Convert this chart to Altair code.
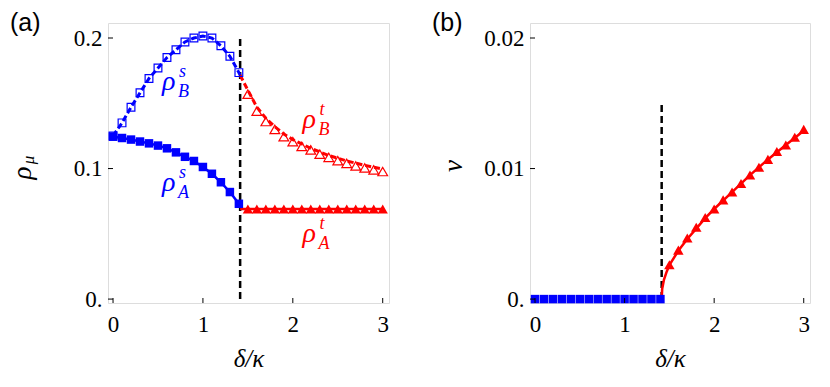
import altair as alt
import pandas as pd

# ---------------- data ----------------
crit = 1.414

xs_s = [0.0, 0.1, 0.2, 0.3, 0.4, 0.5, 0.6, 0.7, 0.8, 0.9, 1.0, 1.1, 1.2, 1.3, 1.4]
rhoA_s = [0.1244, 0.1234, 0.1222, 0.1207, 0.1193, 0.1176, 0.1155, 0.1124, 0.1090,
          0.1058, 0.1012, 0.0960, 0.0895, 0.0820, 0.0730]
rhoB_s = [0.1250, 0.1350, 0.1470, 0.1580, 0.1690, 0.1770, 0.1850, 0.1910, 0.1970,
          0.2000, 0.2015, 0.2000, 0.1940, 0.1860, 0.1735]
rhoA_s_end = 0.0715
rhoB_s_end = 0.1715

xs_t = [1.5, 1.6, 1.7, 1.8, 1.9, 2.0, 2.1, 2.2, 2.3, 2.4, 2.5, 2.6, 2.7, 2.8, 2.9, 3.0]
rhoA_t = [0.069] * 16
rhoB_t = [0.1570, 0.1440, 0.1360, 0.1300, 0.1244, 0.1206, 0.1170, 0.1143, 0.1110,
          0.1086, 0.1060, 0.1040, 0.1020, 0.1005, 0.0990, 0.0977]

# line of rho_B^t
lineBt_x = [1.414, 1.5, 1.6, 1.7, 1.8, 1.9, 2.0, 2.2, 2.4, 2.6, 2.8, 3.0]
lineBt_y = [0.1715, 0.1600, 0.1470, 0.1385, 0.1320, 0.1265, 0.1222, 0.1155, 0.1100,
            0.1058, 0.1025, 0.0995]

nu_s = [0.0] * 15
nu_t = [0.00263, 0.00375, 0.00468, 0.0055, 0.00625, 0.0069, 0.0076, 0.0082, 0.00886,
        0.0095, 0.0101, 0.0107, 0.0113, 0.0118, 0.0124, 0.0130]
lineNu_x = [1.414, 1.42, 1.44, 1.47, 1.5, 1.6, 1.7, 1.8, 1.9, 2.0, 2.2, 2.4, 2.6, 2.8, 3.0]
lineNu_y = [0.0, 0.0008, 0.0015, 0.0021, 0.0026, 0.0037, 0.0046, 0.0054, 0.0062,
            0.0069, 0.0082, 0.0095, 0.0107, 0.0118, 0.0129]

ann_x = [0.546, 0.546, 2.107, 2.107]
ann_y = [0.160, 0.083, 0.131, 0.0435]
ann_sup = ["s", "s", "t", "t"]
ann_sub = ["B", "A", "B", "A"]
ann_col = ["#0000ff", "#0000ff", "#ff0000", "#ff0000"]

xticks = [0, 1, 2, 3]
yticks_a = [0.0, 0.1, 0.2]
yticks_b = [0.0, 0.01, 0.02]

BLUE = "#0000ff"
RED = "#ff0000"
SERIF = "Liberation Serif, Times New Roman, serif"
SANS = "Liberation Sans, Arial, sans-serif"
W, H = 281, 280


def df(x, y):
    return pd.DataFrame({"x": x, "y": y})


def panel(ydomain, yticks, yfmt, label, ytitle, layers_fn, width):
    xaxis = alt.Axis(values=xticks, ticks=False, domain=False, grid=False,
                     labelFont=SERIF, labelFontSize=23, labelPadding=10,
                     labelColor="black", title="δ/κ", titleFont=SERIF,
                     titleFontStyle="italic", titleFontWeight="normal",
                     titleFontSize=25, titlePadding=10, titleColor="black")
    yaxis = alt.Axis(values=yticks, ticks=False, domain=False, grid=False,
                     labelFont=SERIF, labelFontSize=23, labelPadding=6,
                     labelColor="black",
                     labelExpr=f"datum.value == 0 ? '0.' : format(datum.value, '{yfmt}')",
                     title=None)
    X = alt.X("x:Q", scale=alt.Scale(domain=[-0.056, 3.07], nice=False, zero=False), axis=xaxis)
    Y = alt.Y("y:Q", scale=alt.Scale(domain=ydomain, nice=False, zero=False), axis=yaxis)

    layers = layers_fn(X, Y)

    xt = alt.Chart(pd.DataFrame({"x": xticks})).mark_rule(color="black", strokeWidth=1).encode(
        x=X, y=alt.value(H), y2=alt.value(H - 5))
    yt = alt.Chart(pd.DataFrame({"y": yticks})).mark_rule(color="black", strokeWidth=1).encode(
        y=Y, x=alt.value(0), x2=alt.value(5))
    lab = alt.Chart(pd.DataFrame({"t": [label]})).mark_text(
        font=SANS, fontSize=25, align="left", baseline="top", color="black").encode(
        text="t:N", x=alt.value(-98), y=alt.value(-12))
    return alt.layer(*layers, xt, yt, lab, ytitle).properties(width=width, height=H)


def layers_a(X, Y):
    out = []
    out.append(alt.Chart(df([crit], [0.0])).mark_rule(color="black", strokeWidth=2.5,
                                                       strokeDash=[7, 4]).encode(
        x=X, y=Y, y2=alt.Y2("y2:Q")).transform_calculate(y2="0.2"))
    out.append(alt.Chart(df(xs_s + [crit], rhoA_s + [rhoA_s_end])).mark_line(
        color=BLUE, strokeWidth=2.5).encode(x=X, y=Y))
    out.append(alt.Chart(df(xs_s + [crit], rhoB_s + [rhoB_s_end])).mark_line(
        color=BLUE, strokeWidth=3, strokeDash=[6, 3]).encode(x=X, y=Y))
    out.append(alt.Chart(df([crit, 3.0], [0.069, 0.069])).mark_line(
        color=RED, strokeWidth=2.5).encode(x=X, y=Y))
    out.append(alt.Chart(df(lineBt_x, lineBt_y)).mark_line(
        color=RED, strokeWidth=3, strokeDash=[6, 3]).encode(x=X, y=Y))
    out.append(alt.Chart(df(xs_s, rhoA_s)).mark_point(
        shape="square", filled=True, size=72, color=BLUE, opacity=1).encode(x=X, y=Y))
    out.append(alt.Chart(df(xs_s, rhoB_s)).mark_point(
        shape="square", filled=False, size=60, color=BLUE, strokeWidth=1.2, opacity=1).encode(x=X, y=Y))
    out.append(alt.Chart(df(xs_t, rhoA_t)).mark_point(
        shape="triangle-up", filled=True, size=105, color=RED, opacity=1).encode(x=X, y=Y))
    out.append(alt.Chart(df(xs_t, rhoB_t)).mark_point(
        shape="triangle-up", filled=False, size=95, color=RED, strokeWidth=1.2, opacity=1).encode(x=X, y=Y))

    ann = pd.DataFrame({"x": ann_x, "y": ann_y, "sup": ann_sup, "sub": ann_sub,
                        "c": ann_col, "r": ["ρ"] * 4})
    base = alt.Chart(ann)
    out.append(base.mark_text(font=SERIF, fontStyle="italic", fontSize=28, align="left",
                              baseline="alphabetic").encode(
        x=X, y=Y, text="r:N", color=alt.Color("c:N", scale=None)))
    out.append(base.mark_text(font=SERIF, fontStyle="italic", fontSize=18, align="left",
                              baseline="alphabetic", dx=17, dy=-13).encode(
        x=X, y=Y, text="sup:N", color=alt.Color("c:N", scale=None)))
    out.append(base.mark_text(font=SERIF, fontStyle="italic", fontSize=18, align="left",
                              baseline="alphabetic", dx=16, dy=7).encode(
        x=X, y=Y, text="sub:N", color=alt.Color("c:N", scale=None)))
    return out


def layers_b(X, Y):
    out = []
    out.append(alt.Chart(df([crit], [0.0])).mark_rule(color="black", strokeWidth=2.5,
                                                       strokeDash=[7, 4]).encode(
        x=X, y=Y, y2=alt.Y2("y2:Q")).transform_calculate(y2="0.015"))
    out.append(alt.Chart(df(lineNu_x, lineNu_y)).mark_line(
        color=RED, strokeWidth=2.5).encode(x=X, y=Y))
    out.append(alt.Chart(df(xs_s, nu_s)).mark_point(
        shape="square", filled=True, size=72, color=BLUE, opacity=1).encode(x=X, y=Y))
    out.append(alt.Chart(df(xs_t, nu_t)).mark_point(
        shape="triangle-up", filled=True, size=110, color=RED, opacity=1).encode(x=X, y=Y))
    return out


ytitle_a = alt.Chart(pd.DataFrame({"t": ["ρ"]})).mark_text(
    font=SERIF, fontStyle="italic", fontSize=27, angle=270, align="center",
    baseline="middle", color="black").encode(text="t:N", x=alt.value(-85), y=alt.value(150))
ytitle_a2 = alt.Chart(pd.DataFrame({"t": ["μ"]})).mark_text(
    font=SERIF, fontStyle="italic", fontSize=17, angle=270, align="center",
    baseline="middle", color="black").encode(text="t:N", x=alt.value(-79), y=alt.value(137))
ytitle_b = alt.Chart(pd.DataFrame({"t": ["ν"]})).mark_text(
    font=SERIF, fontStyle="italic", fontSize=27, angle=270, align="center",
    baseline="middle", color="black").encode(text="t:N", x=alt.value(-76), y=alt.value(143))

pa = panel([-0.003, 0.2115], yticks_a, ".1f", "(a)", alt.layer(ytitle_a, ytitle_a2), layers_a, W)
pb = panel([-0.0003, 0.02115], yticks_b, ".2f", "(b)", ytitle_b, layers_b, 280)

chart = alt.hconcat(pa, pb, spacing=40).properties(
    padding={"left": 0, "top": 2, "right": 0, "bottom": 0}).configure_view(
    stroke="black", strokeWidth=1.3).configure(background="white")

chart.save("out.html", embed_options={"renderer": "svg", "actions": False})
